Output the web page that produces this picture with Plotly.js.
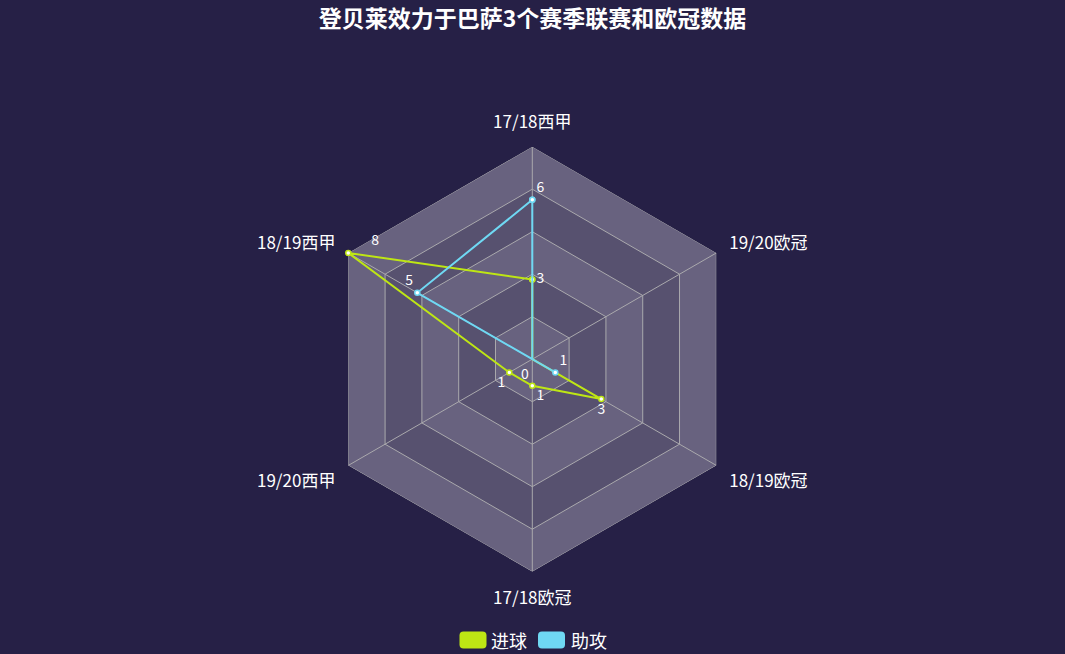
<!DOCTYPE html>
<html>
<head>
<meta charset="utf-8">
<script src="https://cdn.plot.ly/plotly-3.0.1.min.js"></script>
<style>
  html, body { margin: 0; padding: 0; background: #262046; }
  #radar { width: 1065px; height: 654px; }
</style>
</head>
<body>
<div id="radar"></div>
<script>
// seasons, counter-clockwise from the top
var seasons = ['17/18西甲', '18/19西甲', '19/20西甲', '17/18欧冠', '18/19欧冠', '19/20欧冠'];
var goals   = [3, 8, 1, 1, 3, 0];
var assists = [6, 5, 0, 0, 1, 0];
var seriesNames = ['进球', '助攻'];

var maxVal = 8;
var splitNumber = 5;

var bg = '#262046';
var bandLight = '#68627f';
var bandDark = '#57516f';
var gridColor = '#aaa9ad';
var goalColor = '#bee614';
var assistColor = '#6fd8f3';

var font = '"Noto Sans CJK SC", "Microsoft YaHei", sans-serif';

function closed(arr) { return arr.concat([arr[0]]); }

var traces = [];

// alternating split areas, outer ring first
for (var k = splitNumber; k >= 1; k--) {
    var lvl = maxVal * k / splitNumber;
    traces.push({
        type: 'scatterpolar',
        r: closed(seasons.map(function () { return lvl; })),
        theta: closed(seasons),
        mode: 'lines',
        fill: 'toself',
        fillcolor: (k % 2 === 1) ? bandLight : bandDark,
        line: {color: gridColor, width: 1},
        hoverinfo: 'skip',
        showlegend: false
    });
}

// spokes
var spokeR = [], spokeT = [];
seasons.forEach(function (s) {
    spokeR.push(0, maxVal, null);
    spokeT.push(s, s, null);
});
traces.push({
    type: 'scatterpolar',
    r: spokeR,
    theta: spokeT,
    mode: 'lines',
    connectgaps: false,
    line: {color: gridColor, width: 1},
    hoverinfo: 'skip',
    showlegend: false
});

function series(name, vals, color, pos, tmpl) {
    return {
        type: 'scatterpolar',
        name: name,
        r: closed(vals),
        theta: closed(seasons),
        mode: 'lines+markers+text',
        text: vals.map(String).concat(['']),
        texttemplate: closed(tmpl).map(function (t, i) { return i === vals.length ? '' : t; }),
        textposition: closed(pos),
        textfont: {color: '#ffffff', size: 14, family: font},
        cliponaxis: false,
        line: {color: color, width: 2},
        marker: {symbol: 'circle', size: 5, color: '#ffffff', line: {color: color, width: 1.5}},
        showlegend: false
    };
}

var pad = '\u00a0\u00a0\u00a0\u00a0\u00a0\u00a0';
traces.push(series(seriesNames[0], goals, goalColor,
    ['middle right', 'top right', 'bottom left', 'bottom right', 'bottom center', 'bottom left'],
    ['%{text}', pad + '%{text}', '%{text}', '%{text}', '%{text}', '%{text}']));
traces.push(series(seriesNames[1], assists, assistColor,
    ['top right', 'top left', 'bottom left', 'bottom left', 'top right', 'bottom left'],
    ['%{text}', '%{text}', '%{text}', '%{text}', '%{text}', '%{text}']));

// legend swatches drawn as rounded rects
function roundRect(w, h, rad) {
    var x0 = -w / 2, x1 = w / 2, y0 = -h / 2, y1 = h / 2;
    return 'M' + (x0 + rad) + ',' + y0 +
        ' L' + (x1 - rad) + ',' + y0 + ' Q' + x1 + ',' + y0 + ' ' + x1 + ',' + (y0 + rad) +
        ' L' + x1 + ',' + (y1 - rad) + ' Q' + x1 + ',' + y1 + ' ' + (x1 - rad) + ',' + y1 +
        ' L' + (x0 + rad) + ',' + y1 + ' Q' + x0 + ',' + y1 + ' ' + x0 + ',' + (y1 - rad) +
        ' L' + x0 + ',' + (y0 + rad) + ' Q' + x0 + ',' + y0 + ' ' + (x0 + rad) + ',' + y0 + ' Z';
}

var legendY = 1 - 640 / 654;
var swatchX = [473 / 1065, 551.5 / 1065];
var labelX = [489 / 1065, 569 / 1065];
var legendColors = [goalColor, assistColor];

var shapes = swatchX.map(function (x, i) {
    return {
        type: 'path',
        xref: 'paper', yref: 'paper',
        xsizemode: 'pixel', ysizemode: 'pixel',
        xanchor: x, yanchor: legendY,
        path: roundRect(27, 17, 4),
        fillcolor: legendColors[i],
        line: {width: 0}
    };
});

var annotations = labelX.map(function (x, i) {
    return {
        xref: 'paper', yref: 'paper',
        x: x, y: legendY,
        xanchor: 'left', yanchor: 'middle',
        text: seriesNames[i],
        showarrow: false,
        font: {color: '#ffffff', size: 18, family: font}
    };
});

var cx = 532.3, cy = 359.2, rad = 212.5;

// plotly drops text for points sitting on the radial minimum, so the
// shared "0" label at the centre goes in as an annotation
annotations.push({
    xref: 'paper', yref: 'paper',
    x: cx / 1065, y: (654 - cy) / 654,
    xanchor: 'right', yanchor: 'top',
    xshift: -1, yshift: -2,
    text: String(Math.min.apply(null, assists.concat(goals))),
    showarrow: false,
    font: {color: '#ffffff', size: 14, family: font}
});

var layout = {
    width: 1065,
    height: 654,
    paper_bgcolor: bg,
    plot_bgcolor: bg,
    margin: {l: 0, r: 0, t: 0, b: 0},
    showlegend: false,
    title: {
        text: '<b>登贝莱效力于巴萨3个赛季联赛和欧冠数据</b>',
        x: 0.5,
        xanchor: 'center',
        yref: 'container',
        y: 1 - 19 / 654,
        yanchor: 'middle',
        font: {color: '#ffffff', size: 23, family: font}
    },
    polar: {
        domain: {
            x: [(cx - rad) / 1065, (cx + rad) / 1065],
            y: [(654 - cy - rad) / 654, (654 - cy + rad) / 654]
        },
        bgcolor: bg,
        gridshape: 'linear',
        radialaxis: {
            range: [0, maxVal],
            visible: false,
            showgrid: false
        },
        angularaxis: {
            type: 'category',
            categoryarray: seasons,
            direction: 'counterclockwise',
            rotation: 90,
            showgrid: false,
            showline: false,
            ticks: 'outside',
            ticklen: 11,
            tickcolor: 'rgba(0,0,0,0)',
            tickfont: {color: '#ffffff', size: 17, family: font}
        }
    },
    shapes: shapes,
    annotations: annotations
};

Plotly.newPlot('radar', traces, layout, {displayModeBar: false, staticPlot: true});
</script>
</body>
</html>
